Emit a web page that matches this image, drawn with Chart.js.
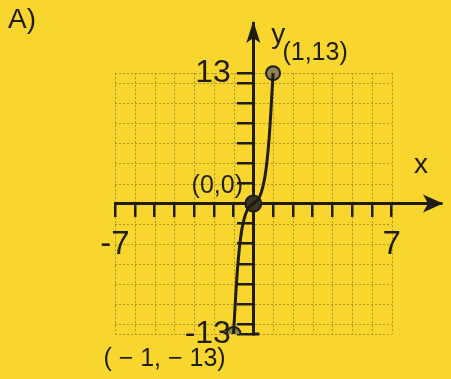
<!DOCTYPE html>
<html>
<head>
<meta charset="utf-8">
<script src="https://cdn.jsdelivr.net/npm/chart.js@4"></script>
<style>
  html, body { margin: 0; padding: 0; background: #f8d62e; }
  #wrap { width: 451px; height: 379px; }
</style>
</head>
<body>
<div id="wrap"><canvas id="graph" width="451" height="379"></canvas></div>
<script>
// curve
const curveX = [-1, -0.9, -0.8, -0.65, -0.5, -0.3, 0, 0.3, 0.5, 0.65, 0.8, 0.9, 1];
const curveY = [-13, -9.5, -6.5, -3.5, -1.8, -0.6, 0, 0.6, 1.8, 3.5, 6.5, 9.5, 13];

// labelled points
const markX = [-1, 0, 1];
const markY = [-13, 0, 13];
const markText = ['( \u2212 1, \u2212 13)', '(0,0)', '(1,13)'];

// axes
const xTicks = [-7, -6, -5, -4, -3, -2, -1, 0, 1, 2, 3, 4, 5, 6, 7];
const yTicks = [-13, -12, -10, -8, -6, -4, -2, 0, 2, 4, 6, 8, 10, 12, 13];
const xLabels = [-7, 7];
const yLabels = [-13, 13];
const gridX = [-7, -6, -5, -4, -3, -2, -1, 0, 1, 2, 3, 4, 5, 6, 7];
const gridY = [-13, -12, -10, -8, -6, -4, -2, 0, 2, 4, 6, 8, 10, 12, 13];

const ink = '#1f1c12';
const paper = '#f8d62e';
const font = "'Liberation Sans Narrow', 'Liberation Sans', Arial, sans-serif";

const paperPlugin = {
    id: 'paper',
    beforeDraw(chart) {
        const c = chart.ctx;
        const xs = chart.scales.x, ys = chart.scales.y;
        c.save();
        c.fillStyle = paper;
        c.fillRect(0, 0, chart.width, chart.height);
        // dotted grid only inside -7..7 / -13..13
        c.strokeStyle = '#ad9430';
        c.lineWidth = 1;
        c.setLineDash([2, 2]);
        const l = xs.getPixelForValue(gridX[0]), r = xs.getPixelForValue(gridX[gridX.length - 1]);
        const t = ys.getPixelForValue(gridY[gridY.length - 1]), b = ys.getPixelForValue(gridY[0]);
        gridX.forEach(v => {
            const px = Math.round(xs.getPixelForValue(v)) + 0.5;
            c.beginPath(); c.moveTo(px, t); c.lineTo(px, b); c.stroke();
        });
        gridY.forEach(v => {
            const py = Math.round(ys.getPixelForValue(v)) + 0.5;
            c.beginPath(); c.moveTo(l, py); c.lineTo(r, py); c.stroke();
        });
        c.restore();
    },
    afterDraw(chart) {
        const c = chart.ctx;
        const xs = chart.scales.x, ys = chart.scales.y;
        const ox = xs.getPixelForValue(0), oy = ys.getPixelForValue(0);
        const area = chart.chartArea;
        c.save();
        c.fillStyle = ink;
        c.strokeStyle = ink;
        // arrow on x axis
        c.beginPath();
        c.moveTo(area.right + 2, oy);
        c.lineTo(area.right - 18, oy - 9);
        c.lineTo(area.right - 13, oy);
        c.lineTo(area.right - 18, oy + 9);
        c.closePath();
        c.fill();
        // arrow on y axis
        c.beginPath();
        c.moveTo(ox, area.top - 2);
        c.lineTo(ox - 7, area.top + 20);
        c.lineTo(ox, area.top + 15);
        c.lineTo(ox + 7, area.top + 20);
        c.closePath();
        c.fill();
        // small foot at the bottom of the y axis
        c.lineWidth = 3;
        c.beginPath();
        c.moveTo(ox - 1, area.bottom);
        c.lineTo(ox + 6, area.bottom);
        c.stroke();

        c.textBaseline = 'middle';
        c.textAlign = 'center';
        c.font = '28px ' + font;
        c.fillText('x', area.right - 20, oy - 38);
        c.fillText('y', ox + 25, area.top + 12);
        c.font = '28px ' + font;
        c.fillText('A)', 22, 20);

        c.font = '25px ' + font;
        const offs = [[-69, 25], [-36, -17], [42, -20]];
        markX.forEach((v, i) => {
            const px = xs.getPixelForValue(v), py = ys.getPixelForValue(markY[i]);
            c.fillText(markText[i], px + offs[i][0], py + offs[i][1]);
        });
        c.restore();
    }
};

const ctx = document.getElementById('graph').getContext('2d');

const chart = new Chart(ctx, {
    type: 'scatter',
    data: {
        datasets: [
            {
                data: curveX.map((x, i) => ({x: x, y: curveY[i]})),
                showLine: true,
                borderColor: ink,
                borderWidth: 3,
                pointRadius: 0,
                tension: 0.4,
                cubicInterpolationMode: 'monotone'
            },
            {
                data: markX.map((x, i) => ({x: x, y: markY[i]})),
                showLine: false,
                pointRadius: [7, 8, 7],
                pointBackgroundColor: ['#8e8250', '#3b3522', '#8e8250'],
                pointBorderColor: ink,
                pointBorderWidth: 2
            }
        ]
    },
    options: {
        responsive: false,
        animation: false,
        layout: {padding: {left: 115, right: 8, top: 23, bottom: 45}},
        plugins: {legend: {display: false}, tooltip: {enabled: false}},
        scales: {
            x: {
                type: 'linear',
                min: -7, max: 9.5,
                position: {y: 0},
                afterBuildTicks: s => { s.ticks = xTicks.map(v => ({value: v})); },
                afterFit: s => { s.height = 0; },
                border: {display: true, color: ink, width: 3},
                grid: {drawOnChartArea: false, drawTicks: true, tickLength: 12, color: ink, lineWidth: 2.5},
                ticks: {
                    autoSkip: false, maxRotation: 0, padding: 10,
                    color: ink, font: {family: font, size: 33},
                    callback: v => xLabels.includes(v) ? String(v) : ''
                }
            },
            y: {
                type: 'linear',
                min: -13, max: 18,
                position: {x: 0},
                afterBuildTicks: s => { s.ticks = yTicks.map(v => ({value: v})); },
                afterFit: s => { s.width = 0; },
                border: {display: true, color: ink, width: 3},
                grid: {drawOnChartArea: false, drawTicks: true, tickLength: 15, color: ink, lineWidth: 2.5},
                ticks: {
                    autoSkip: false, padding: 2,
                    color: ink, font: {family: font, size: 32},
                    // trailing spaces keep the label clear of the axis ticks
                    callback: v => yLabels.includes(v) ? String(v) + '\u2002\u2009' : ''
                }
            }
        }
    },
    plugins: [paperPlugin]
});
</script>
</body>
</html>
